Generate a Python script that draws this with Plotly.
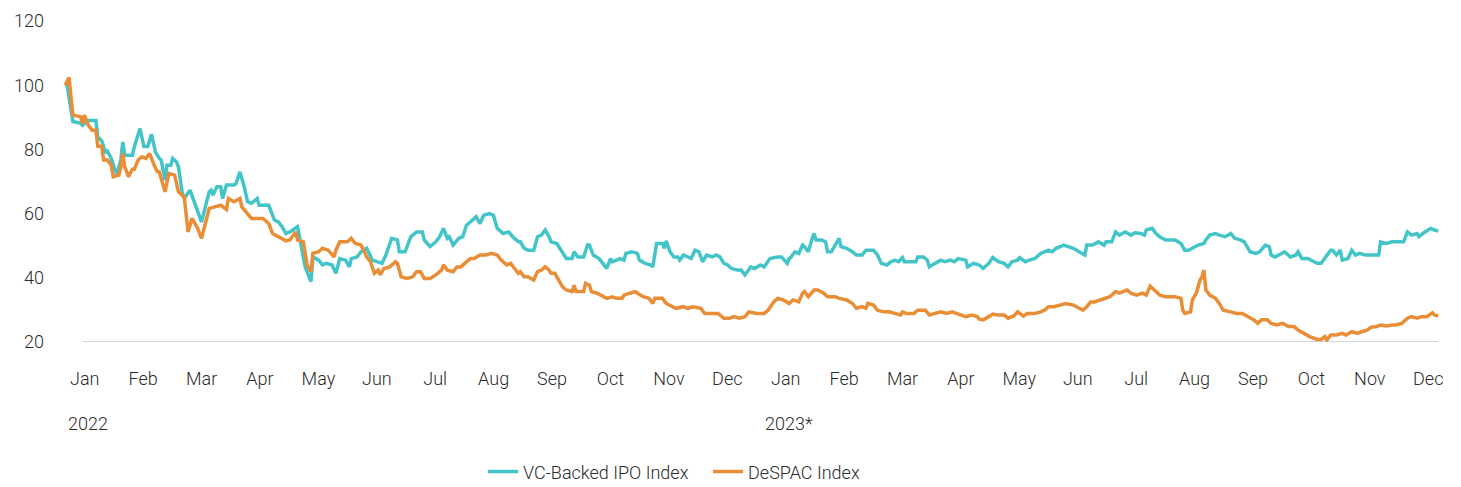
import pandas as pd
import plotly.graph_objects as go

# ---- data (days since 2022-01-01, index value) ----
vc_days = [5,6,9,13,14,17,21,22,24,26,27,29,31,32,34,35,36,40,41,44,46,48,50,52,54,55,57,58,60,61,63,64,66,67,70,73,75,76,78,80,81,82,84,86,87,89,93,94,96,98,100,102,105,106,111,114,116,118,120,
           122,126,128,130,133,134,137,139,141,144,146,148,151,153,154,157,159,162,165,167,170,172,175,178,179,182,184,185,188,191,192,195,198,200,202,204,205,207,210,212,214,217,219,221,223,226,228,230,233,236,238,241,
           242,244,246,249,251,253,255,257,258,261,264,266,269,270,272,275,277,278,280,283,285,287,289,290,292,294,296,297,300,303,304,307,310,311,313,316,317,318,320,322,324,325,327,329,331,333,335,337,339,342,344,346,348,350,352,355,357,359,362,
           364,367,369,372,376,378,381,382,383,385,387,389,390,392,394,395,396,399,401,402,404,406,408,409,412,415,417,420,422,426,428,430,433,435,437,439,441,442,445,448,449,452,454,455,458,461,463,466,468,470,474,475,478,481,
           483,486,488,491,494,496,498,501,502,505,507,510,513,515,517,519,521,525,527,530,533,536,537,540,543,546,547,550,552,554,557,560,562,565,567,568,571,573,575,578,580,583,586,588,590,593,595,598,599,601,
           604,606,609,612,614,617,619,622,625,627,630,632,633,635,638,640,643,646,647,649,652,654,657,659,661,664,665,667,669,670,673,675,677,679,682,685,689,690,693,696,699,702,704,706,709,710,712,716,718,720]
vc_values = [100,100,88.7,88.2,87.5,89,89,83.9,82.7,79.2,79.5,77.2,73.5,72.5,76.7,82.3,78.2,78.2,80.8,86.5,80.9,80.9,84.7,79.2,77.2,76.7,70.4,75.1,75.1,77.2,76.1,74.5,66.3,64.7,67.3,62.1,59,57.4,62.1,66.8,67.3,65.8,68.4,68.4,64.7,68.9,68.9,69.4,73,68.9,63.7,63.2,64.7,62.6,62.6,58,57.4,55.9,53.8,
             54.3,55.9,49.2,43.4,38.8,46.5,45.5,44,44.5,44,41.4,46,45.5,43.4,46,46.5,48.1,49.2,45.5,45,44.5,47.1,52.3,51.8,48.1,48.1,51.2,52.8,54.3,54.3,51.8,49.7,51.2,52.8,55.4,52.3,52.8,50.2,52.3,52.8,56.4,58,59,56.9,59.5,60,59.5,55.4,53.8,54.3,52.8,51.2,
             51.2,49.2,48.6,48.6,52.8,53.3,54.9,52.8,51.2,50.7,48.1,46,46,48.1,46.5,46.5,50.2,50.2,47.1,46,44.5,42.9,46,45,45.5,46,45.5,47.6,48.1,47.6,45.5,44.5,44,43.4,50.7,50.7,49.2,51.5,48.1,46.5,46.5,45.5,47.1,46.5,46,48.6,48.1,45,47.1,46.5,47.1,46.5,44.5,44,42.9,42.4,42.4,40.9,43.4,
             42.9,44,43.4,46,46.5,46.5,44.5,46,46.5,48.1,47.6,50.2,49.7,48.1,52.3,53.8,51.8,51.8,51.2,48.1,48.1,50.2,52.3,49.7,49.2,48.1,47.1,47.1,48.6,48.6,47.1,44.5,44,45,45.5,45,46.3,45,45,45,46.5,46.5,45.5,43.4,44.5,45.5,45,45.5,45,46,45.5,43.4,44.5,44,
             42.9,44.5,46.3,45,44.5,43.4,45,45.5,46.3,45,45.5,46,47.6,48.1,48.6,48.1,49.2,50.2,49.7,49.2,48.1,47.1,50.2,50.2,51.2,50.2,51.2,51.2,54.3,53.3,54.3,53.3,54,53.8,53.3,54.9,55.4,53.8,52.8,51.8,51.8,51.8,50.7,48.6,48.6,49.7,50.2,50.7,51.8,53.3,
             53.8,53.3,52.8,53.8,52.3,51.8,51.2,48.1,47.6,48.1,50.2,49.7,47.1,46.5,47.6,48.1,46.5,47.1,48.1,46,46,45.5,44.5,44.5,46,48.6,48.6,47.1,48.6,45.5,46,48.6,47.1,47.6,47.1,47.1,47.1,51.2,50.7,51.2,51.2,51.2,54.3,53.3,53.8,52.8,53.8,55.4,54.9,54.6]

despac_days = [5,7,9,13,14,15,17,19,21,22,24,25,27,29,30,33,34,35,36,38,40,41,43,45,47,49,51,53,54,56,57,59,62,64,67,69,71,74,76,78,80,83,86,89,90,93,96,97,100,102,108,111,113,118,120,
               122,125,126,129,131,133,134,137,139,142,145,146,148,152,154,156,159,160,162,164,166,168,169,171,174,177,178,180,183,186,188,190,192,195,198,201,202,204,207,209,211,214,216,218,221,224,227,230,232,235,237,239,241,
               242,244,246,249,251,253,255,257,258,260,262,264,266,269,270,271,275,276,278,279,282,284,287,290,292,295,296,299,302,303,306,309,311,312,316,318,321,323,327,329,332,336,338,342,345,348,351,353,356,359,361,
               365,369,371,374,376,379,382,384,387,389,390,392,395,397,400,402,406,408,412,415,417,420,422,423,426,428,431,434,437,440,441,443,447,449,453,455,458,461,464,467,469,472,474,477,480,481,
               483,486,488,491,494,496,499,501,504,506,510,513,515,517,520,523,526,530,533,535,537,539,541,544,546,549,552,554,558,560,563,566,568,570,573,575,578,580,583,586,587,588,591,592,594,596,597,598,599,601,
               604,606,608,612,615,618,621,624,626,628,631,633,636,639,642,645,647,650,653,657,659,661,662,664,667,670,672,675,678,680,683,685,688,690,693,696,698,701,704,706,709,711,714,717,718,720]
despac_values = [100,102.4,90.7,90.2,88.1,90.7,87.6,86,86,81,81,76.7,76.7,75.1,71.5,72,74.6,78.7,74.6,71.5,73.8,73.8,76.7,77.7,77.2,78.7,75.6,73,73,69.4,66.8,72.5,72,66.8,65.2,54.3,58.5,55.4,52.3,56.9,61.6,62.1,62.6,61.3,64.7,63.7,64.7,62.1,60.1,58.5,58.5,56.9,53.8,52.3,51.5,
                 51.8,54.3,51.8,51.2,44,41.9,47.6,48.1,49.2,48.6,46.5,48.6,51.2,51.2,52.3,50.7,50.2,49.2,46.5,45,41.4,42.4,40.9,42.9,43.4,45,44.5,40.3,39.8,40.3,41.9,41.9,39.8,39.8,40.9,42.4,44,42.4,41.9,43.4,43.4,45,46,46,47.1,47.1,47.6,47.1,45.5,44,44.5,42.9,41.4,
                 41.9,40.3,40.3,39.3,41.9,42.4,43.4,42.4,41.4,41.4,39.3,37.2,36.2,35.7,37.7,35.7,35.7,38.3,37.7,35.7,35.2,34.6,33.6,34.1,33.6,33.6,34.6,35.2,35.7,35.2,34.1,33.6,32,33.6,33.6,32,31,30.5,31,30.5,31,30.5,28.9,28.9,28.9,27.4,27.4,27.9,27.4,27.9,29.4,
                 28.9,28.9,29.9,32.5,33.6,33.1,32,33.1,32.5,35.2,35.7,34.1,36.2,36.2,35.2,34.1,34.1,33.6,33.1,32,30.5,31,30.5,32,31.5,29.9,29.4,29.4,28.9,28.4,29.4,28.9,28.9,29.9,29.9,28.4,28.9,29.4,28.9,29.4,28.9,28.4,27.9,28.4,27.9,27.1,
                 26.9,27.9,28.7,28.4,28.4,27.4,28.1,29.4,28.1,28.9,28.9,29.4,29.9,31,31,31.5,32,31.5,30.5,29.9,31,32.5,32.5,33.1,33.6,34.1,35.7,35.2,36.2,35.2,34.6,35.2,34.6,37.4,35.7,34.6,34.1,34.1,34.1,33.6,29.9,28.9,29.4,33.1,35.2,39.3,40.3,42.4,36.2,34.6,
                 33.6,32,29.9,29.4,28.9,28.9,27.9,26.9,25.8,26.9,26.9,25.8,25.3,25.8,24.8,24.8,23.7,22.7,21.7,20.8,20.8,21.7,20.6,22.2,22.2,22.7,22.2,23.2,22.7,23.2,23.7,24.6,24.8,25.3,25,25.3,25.3,25.8,27.4,27.9,27.4,27.9,27.9,29.1,28.4,28.1]

months = ["Jan", "Feb", "Mar", "Apr", "May", "Jun", "Jul", "Aug", "Sep", "Oct", "Nov", "Dec"]
years = ["2022", "2023*"]
series_names = ["VC-Backed IPO Index", "DeSPAC Index"]
y_ticks = [20, 40, 60, 80, 100, 120]

assert len(vc_days) == len(vc_values)
assert len(despac_days) == len(despac_values)

base = pd.Timestamp("2022-01-01")
to_dates = lambda days: [base + pd.Timedelta(days=d) for d in days]

TEAL = "#42C4C9"
ORANGE = "#E98D36"
FONT = "Roboto, sans-serif"
TXT = "#2b2b2b"
FS = 18

fig = go.Figure()
fig.add_trace(go.Scatter(x=to_dates(vc_days), y=vc_values, mode="lines", name=series_names[0],
                         line=dict(color=TEAL, width=3.5)))
fig.add_trace(go.Scatter(x=to_dates(despac_days), y=despac_values, mode="lines", name=series_names[1],
                         line=dict(color=ORANGE, width=3.5)))

# month ticks evenly spaced, centered in each month slot
n_months = len(months) * len(years)
slot = 730 / n_months
tickvals = [base + pd.Timedelta(days=(k + 0.5) * slot) for k in range(n_months)]
ticktext = months * len(years)

# baseline (x-axis line spanning the data)
fig.add_shape(type="line", xref="x", yref="y",
              x0=base + pd.Timedelta(days=14), x1=base + pd.Timedelta(days=vc_days[-1]),
              y0=20, y1=20, line=dict(color="#c9c9c9", width=1.5), layer="below")

for i, yr in enumerate(years):
    fig.add_annotation(x=base + pd.Timedelta(days=i * 365 + 0.5 * slot), y=-0.255, xref="x", yref="paper",
                       text=yr, showarrow=False, xanchor="center", yanchor="middle", xshift=3,
                       font=dict(family=FONT, size=FS, color=TXT, weight=300))

# page body adds an 8px offset, so margins are shifted by 8px
fig.update_layout(
    width=1453, height=487,
    margin=dict(l=37, r=3, t=13, b=153),
    paper_bgcolor="white", plot_bgcolor="white",
    font=dict(family=FONT, size=FS, color=TXT, weight=300),
    showlegend=True,
    legend=dict(orientation="h", x=0.310, xanchor="left", y=-0.4047, yanchor="middle",
                font=dict(family=FONT, size=FS, color=TXT, weight=300),
                entrywidth=180, entrywidthmode="pixels", tracegroupgap=0),
    xaxis=dict(type="date", automargin=False,
               range=[base - pd.Timedelta(days=5.5), base + pd.Timedelta(days=730.3)],
               tickmode="array", tickvals=tickvals, ticktext=ticktext,
               showgrid=False, zeroline=False, showline=False, ticks="",
               ticklabelstandoff=24, tickfont=dict(family=FONT, size=FS, color=TXT, weight=300)),
    yaxis=dict(range=[20, 120], tickmode="array", tickvals=y_ticks, automargin=False,
               showgrid=False, zeroline=False, showline=False, ticks="",
               ticklabelstandoff=0, tickfont=dict(family=FONT, size=FS, color=TXT, weight=300)),
)

fig.write_html("out.html")
